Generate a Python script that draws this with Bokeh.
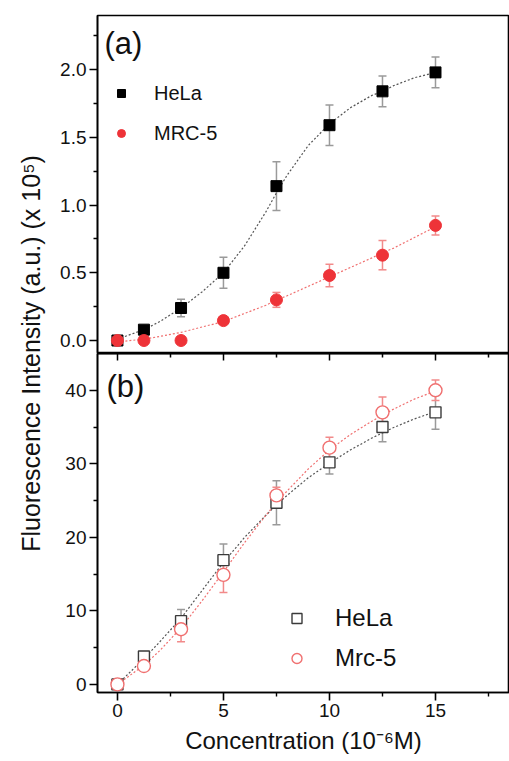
import math
from bokeh.plotting import figure
from bokeh.models import (Range1d, Whisker, TeeHead, ColumnDataSource, Legend, LegendItem,
                          Label, LinearAxis, FixedTicker, PrintfTickFormatter)
from bokeh.layouts import row, column
from bokeh.embed import file_html
from bokeh.resources import INLINE

FONT = "Liberation Sans"

# ---------------- data ----------------
conc = [0, 1.25, 3, 5, 7.5, 10, 12.5, 15]

# panel (a)  (x 10^5)
a_hela = [0.0, 0.08, 0.24, 0.50, 1.14, 1.59, 1.84, 1.98]
a_hela_err = [0.01, 0.02, 0.065, 0.115, 0.18, 0.15, 0.113, 0.113]
a_mrc5 = [0.0, 0.0, 0.0, 0.147, 0.30, 0.48, 0.63, 0.85]
a_mrc5_err = [0.0, 0.0, 0.0, 0.02, 0.055, 0.083, 0.108, 0.07]

# panel (b)
b_hela = [0.0, 3.8, 8.6, 16.9, 24.7, 30.2, 35.0, 37.0]
b_hela_err = [0.3, 0.6, 1.6, 2.2, 3.0, 1.6, 2.0, 2.3]
b_mrc5 = [0.0, 2.5, 7.5, 14.9, 25.7, 32.2, 37.0, 40.0]
b_mrc5_err = [0.3, 0.4, 1.7, 2.4, 1.1, 1.4, 2.1, 1.4]

# fitted curves
fit_x = [0, 1.25, 2, 3, 4, 5, 6, 7, 7.5, 8, 9, 10, 11, 12, 12.5, 13, 14, 15]
a_hela_fit = [0.01, 0.08, 0.14, 0.24, 0.36, 0.50, 0.70, 0.95, 1.09, 1.22, 1.44, 1.60,
              1.72, 1.81, 1.84, 1.88, 1.94, 1.98]
a_mrc5_fit = [-0.01, 0.01, 0.03, 0.06, 0.10, 0.14, 0.20, 0.26, 0.30, 0.33, 0.40, 0.47,
              0.54, 0.61, 0.65, 0.68, 0.76, 0.84]
b_hela_fit = [0.0, 3.5, 5.8, 9.0, 12.8, 16.6, 20.0, 23.0, 24.4, 25.7, 28.1, 30.1,
              31.9, 33.5, 34.2, 34.9, 36.1, 37.1]
b_mrc5_fit = [0.0, 2.6, 4.6, 7.7, 11.4, 15.3, 19.3, 23.0, 24.7, 26.3, 29.3, 31.9,
              34.0, 35.8, 36.6, 37.4, 38.8, 39.9]

x_ticks = [0, 5, 10, 15]
x_minor = [2.5, 7.5, 12.5, 17.5]
a_ticks = [0.0, 0.5, 1.0, 1.5, 2.0]
a_minor = [0.25, 0.75, 1.25, 1.75, 2.25]
b_ticks = [0, 10, 20, 30, 40]
b_minor = [5, 15, 25, 35]

BLACK = "#000000"
GRAY_ERR = "#9a9a9a"
RED = "#ee3338"
RED_ERR = "#f28a8a"
RED_LINE = "#f07070"
DARK = "#3a3a3a"

xr = Range1d(-0.94, 18.49)


def style_axis(ax, font_size="19px"):
    ax.axis_line_width = 1.6
    ax.axis_line_color = "black"
    ax.major_tick_line_width = 1.6
    ax.minor_tick_line_width = 1.4
    ax.major_tick_line_color = "black"
    ax.minor_tick_line_color = "black"
    ax.major_label_text_font = FONT
    ax.major_label_text_font_size = font_size
    ax.major_label_text_color = "#111111"
    ax.axis_label_text_font = FONT
    ax.axis_label_text_font_style = "normal"
    ax.axis_label_text_color = "#111111"
    ax.major_tick_out = 8
    ax.major_tick_in = 0
    ax.minor_tick_out = 4
    ax.minor_tick_in = 0
    ax.major_label_standoff = 3


def errbars(p, x, y, e, color):
    src = ColumnDataSource(dict(x=x, lo=[a - b for a, b in zip(y, e)], hi=[a + b for a, b in zip(y, e)]))
    w = Whisker(base="x", lower="lo", upper="hi", source=src, line_color=color, line_width=1.5,
                upper_head=TeeHead(size=8, line_color=color, line_width=1.5),
                lower_head=TeeHead(size=8, line_color=color, line_width=1.5),
                level="underlay")
    p.add_layout(w)


# ---------------- y-label strip ----------------
lab = figure(width=48, height=761, x_range=Range1d(0, 1), y_range=Range1d(0, 1),
             output_backend="svg", toolbar_location=None, min_border=0,
             x_axis_location=None, y_axis_location=None, outline_line_color=None)
lab.grid.visible = False
lab.add_layout(Label(x=30, y=408, x_units="screen", y_units="screen",
                     text="Fluorescence Intensity (a.u.) (x 10⁵)", angle=math.pi / 2,
                     text_align="center", text_baseline="middle", text_font=FONT,
                     text_font_size="25px", text_color="#111111"))

# ---------------- panel (a) ----------------
pa = figure(width=461, height=353, x_range=xr, y_range=Range1d(-0.096, 2.4),
            output_backend="svg", toolbar_location=None, x_axis_location=None,
            min_border_left=49, min_border_right=0, min_border_top=15, min_border_bottom=0,
            outline_line_color="black", outline_line_width=1.6)
pa.grid.visible = False
ya = pa.yaxis[0]
ya.ticker = FixedTicker(ticks=a_ticks, minor_ticks=a_minor)
ya.formatter = PrintfTickFormatter(format="%.1f")
style_axis(ya)

pa.line(fit_x, a_hela_fit, line_color="#555555", line_width=1.2, line_dash="2 2")
pa.line(fit_x, a_mrc5_fit, line_color=RED_LINE, line_width=1.2, line_dash="2 2")
errbars(pa, conc, a_hela, a_hela_err, GRAY_ERR)
errbars(pa, conc, a_mrc5, a_mrc5_err, RED_ERR)
ra_h = pa.scatter(conc, a_hela, marker="square", size=11, fill_color=BLACK, line_color=BLACK)
ra_m = pa.scatter(conc, a_mrc5, marker="circle", size=12, fill_color=RED, line_color=RED)

leg_a = Legend(items=[LegendItem(label="HeLa", renderers=[ra_h]),
                      LegendItem(label="MRC-5", renderers=[ra_m])],
               location=(14, 208), margin=0, padding=5, spacing=16,
               glyph_width=20, glyph_height=24, label_height=24, label_standoff=23,
               label_text_font=FONT, label_text_font_size="20px", label_text_color="#111111",
               border_line_color=None, background_fill_alpha=0)
pa.add_layout(leg_a)
pa.add_layout(Label(x=7, y=310, x_units="screen", y_units="screen", text="(a)",
                    text_font=FONT, text_font_size="31px", text_baseline="middle",
                    text_color="#111111"))

# ---------------- panel (b) ----------------
pb = figure(width=461, height=408, x_range=xr, y_range=Range1d(-1.1, 45.0),
            output_backend="svg", toolbar_location=None,
            min_border_left=49, min_border_right=0, min_border_top=0, min_border_bottom=69,
            outline_line_color="black", outline_line_width=1.6)
pb.grid.visible = False
xb = pb.xaxis[0]
xb.ticker = FixedTicker(ticks=x_ticks, minor_ticks=x_minor)
style_axis(xb)
xb.axis_label = "Concentration (10⁻⁶M)"
xb.axis_label_text_font_size = "24px"
xb.axis_label_standoff = 7

yb = pb.yaxis[0]
yb.ticker = FixedTicker(ticks=b_ticks, minor_ticks=b_minor)
style_axis(yb)

# inward ticks along the shared border (tick marks only, no labels)
for pos, ln in ((x_ticks, 7), (x_minor, 4)):
    ax = LinearAxis(ticker=FixedTicker(ticks=[], minor_ticks=pos))
    ax.major_tick_in = 0
    ax.major_tick_out = 0
    ax.minor_tick_in = ln
    ax.minor_tick_out = 0
    ax.major_label_standoff = 0
    ax.axis_line_width = 1.6
    ax.minor_tick_line_width = 1.5
    ax.minor_tick_line_color = "black"
    pb.add_layout(ax, "above")

pb.line(fit_x, b_hela_fit, line_color="#555555", line_width=1.2, line_dash="2 2")
pb.line(fit_x, b_mrc5_fit, line_color=RED_LINE, line_width=1.2, line_dash="2 2")
errbars(pb, conc, b_hela, b_hela_err, GRAY_ERR)
errbars(pb, conc, b_mrc5, b_mrc5_err, RED_ERR)
rb_h = pb.scatter(conc, b_hela, marker="square", size=11, fill_color="white",
                  line_color=DARK, line_width=1.4)
rb_m = pb.scatter(conc, b_mrc5, marker="circle", size=13, fill_color="white",
                  line_color=RED_LINE, line_width=1.4)

leg_b = Legend(items=[LegendItem(label="HeLa", renderers=[rb_h]),
                      LegendItem(label="Mrc-5", renderers=[rb_m])],
               location=(187, 20), margin=0, padding=5, spacing=12,
               glyph_width=25, glyph_height=28, label_height=28, label_standoff=26,
               label_text_font=FONT, label_text_font_size="24px", label_text_color="#111111",
               border_line_color=None, background_fill_alpha=0)
pb.add_layout(leg_b)
pb.add_layout(Label(x=9, y=306, x_units="screen", y_units="screen", text="(b)",
                    text_font=FONT, text_font_size="31px", text_baseline="middle",
                    text_color="#111111"))

layout = row(lab, column(pa, pb))
open("out.html", "w").write(file_html(layout, INLINE))
